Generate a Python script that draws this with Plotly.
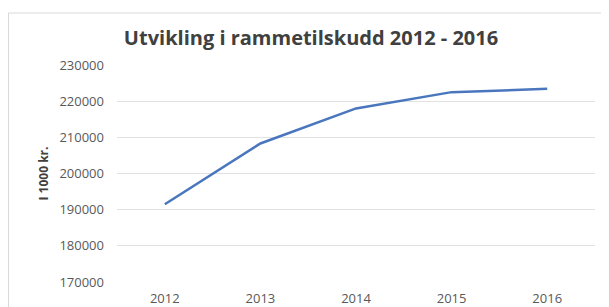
import plotly.graph_objects as go

years = ["2012", "2013", "2014", "2015", "2016"]
values = [191500, 208300, 218000, 222500, 223400]
y_ticks = [170000, 180000, 190000, 200000, 210000, 220000, 230000]

W, H = 609, 307
OFF = 8  # page body margin offset
# desired page-pixel plot box: x 117..595, y 65..282
L = 117 - OFF
T = 65 - OFF
R = W - (595 - OFF)
B = H - (282 - OFF)
pw, ph = W - L - R, H - T - B

def px_x(x):
    return (x - OFF - L) / pw

def px_y(y):
    return (H - B - (y - OFF)) / ph

fig = go.Figure()
fig.add_trace(go.Scatter(
    x=years, y=values, mode="lines",
    line=dict(color="#4a76be", width=2.5),
    showlegend=False,
))

fig.update_layout(
    width=W, height=H,
    margin=dict(l=L, r=R, t=T, b=B, autoexpand=False),
    paper_bgcolor="white", plot_bgcolor="white",
    title=dict(text="<b>Utvikling i rammetilskudd 2012 - 2016</b>",
               x=px_x(311), xref="paper", xanchor="center",
               y=1 - (38 - OFF) / H, yanchor="middle", automargin=False,
               font=dict(family="Open Sans", size=20, color="#404040")),
    font=dict(family="Open Sans", color="#595959"),
    xaxis=dict(type="category", range=[-0.5, 4.5], showgrid=False, ticks="",
               automargin=False, ticklabelstandoff=7,
               tickfont=dict(size=13, color="#595959"),
               showline=False, zeroline=False),
    yaxis=dict(range=[170000, 230000], tickvals=y_ticks,
               ticktext=[str(v) for v in y_ticks],
               automargin=False,
               showgrid=True, gridcolor="#e2e2e2", gridwidth=1,
               zeroline=False, showline=False, ticks="",
               ticklabelstandoff=12,
               tickfont=dict(size=13, color="#595959"),
               title=dict(text="<b>I 1000 kr.</b>", standoff=8,
                          font=dict(size=12, color="#404040"))),
    shapes=[dict(type="rect", xref="paper", yref="paper",
                 x0=px_x(8.5), x1=px_x(603), y0=px_y(330), y1=px_y(13),
                 line=dict(color="#d9d9d9", width=1), layer="below")],
)

fig.write_html("out.html")
